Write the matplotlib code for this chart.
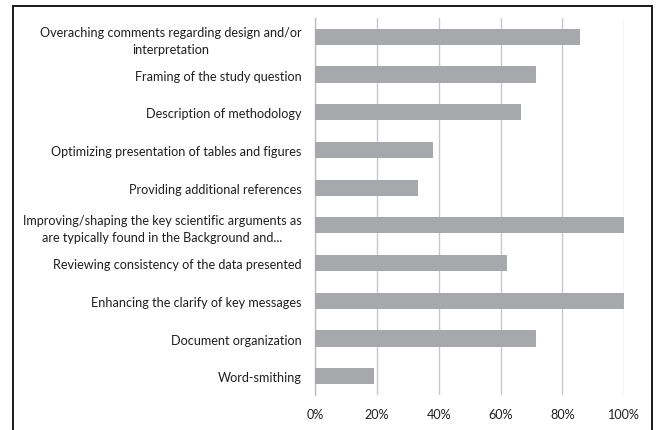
import numpy as np
import matplotlib
matplotlib.use("Agg")
import matplotlib.pyplot as plt
from matplotlib.patches import Rectangle
from matplotlib.ticker import PercentFormatter

# ── Data (top to bottom as shown) ─────────────────────────────────────────────
labels = [
    "Overaching comments regarding design and/or\ninterpretation",
    "Framing of the study question",
    "Description of methodology",
    "Optimizing presentation of tables and figures",
    "Providing additional references",
    "Improving/shaping the key scientific arguments as\nare typically found in the Background and...",
    "Reviewing consistency of the data presented",
    "Enhancing the clarify of key messages",
    "Document organization",
    "Word-smithing",
]
shares = [0.857, 0.714, 0.667, 0.381, 0.333, 1.0, 0.619, 1.0, 0.714, 0.190]
xticks = [0, 0.2, 0.4, 0.6, 0.8, 1.0]

plt.rcParams["font.family"] = ["Lato", "DejaVu Sans"]

fig = plt.figure(figsize=(6.57, 4.31), dpi=100)
ax = fig.add_axes([0.480, 0.081, 0.470, 0.875])

y = np.arange(len(labels))
ax.barh(y, shares, height=0.43, color="#a7a8ab", zorder=3)

ax.set_xlim(0, 1)
ax.set_ylim(len(labels) - 0.5, -0.5)
ax.set_xticks(xticks)
ax.xaxis.set_major_formatter(PercentFormatter(1.0, decimals=0))
ax.set_yticks(y)
ax.set_yticklabels(labels, multialignment="center", linespacing=1.5)

ax.grid(axis="x", color="#c8c8c8", linewidth=1.0, zorder=0)
for s in ["top", "right", "bottom"]:
    ax.spines[s].set_visible(False)
ax.spines["left"].set_color("#bdbdbd")
ax.spines["left"].set_linewidth(1.0)

ax.tick_params(axis="y", length=0, pad=10, labelsize=9.1, labelcolor="#1f1f1f")
ax.tick_params(axis="x", length=0, pad=9, labelsize=9.1, labelcolor="#1f1f1f")

# outer frame
fig.add_artist(Rectangle((12.5 / 657, -0.01), (652 - 12.5) / 657, 1 - 7 / 431 + 0.01,
                         transform=fig.transFigure, fill=False,
                         edgecolor="#1a1a1a", linewidth=1.4))

fig.savefig("out.png", dpi=100)
